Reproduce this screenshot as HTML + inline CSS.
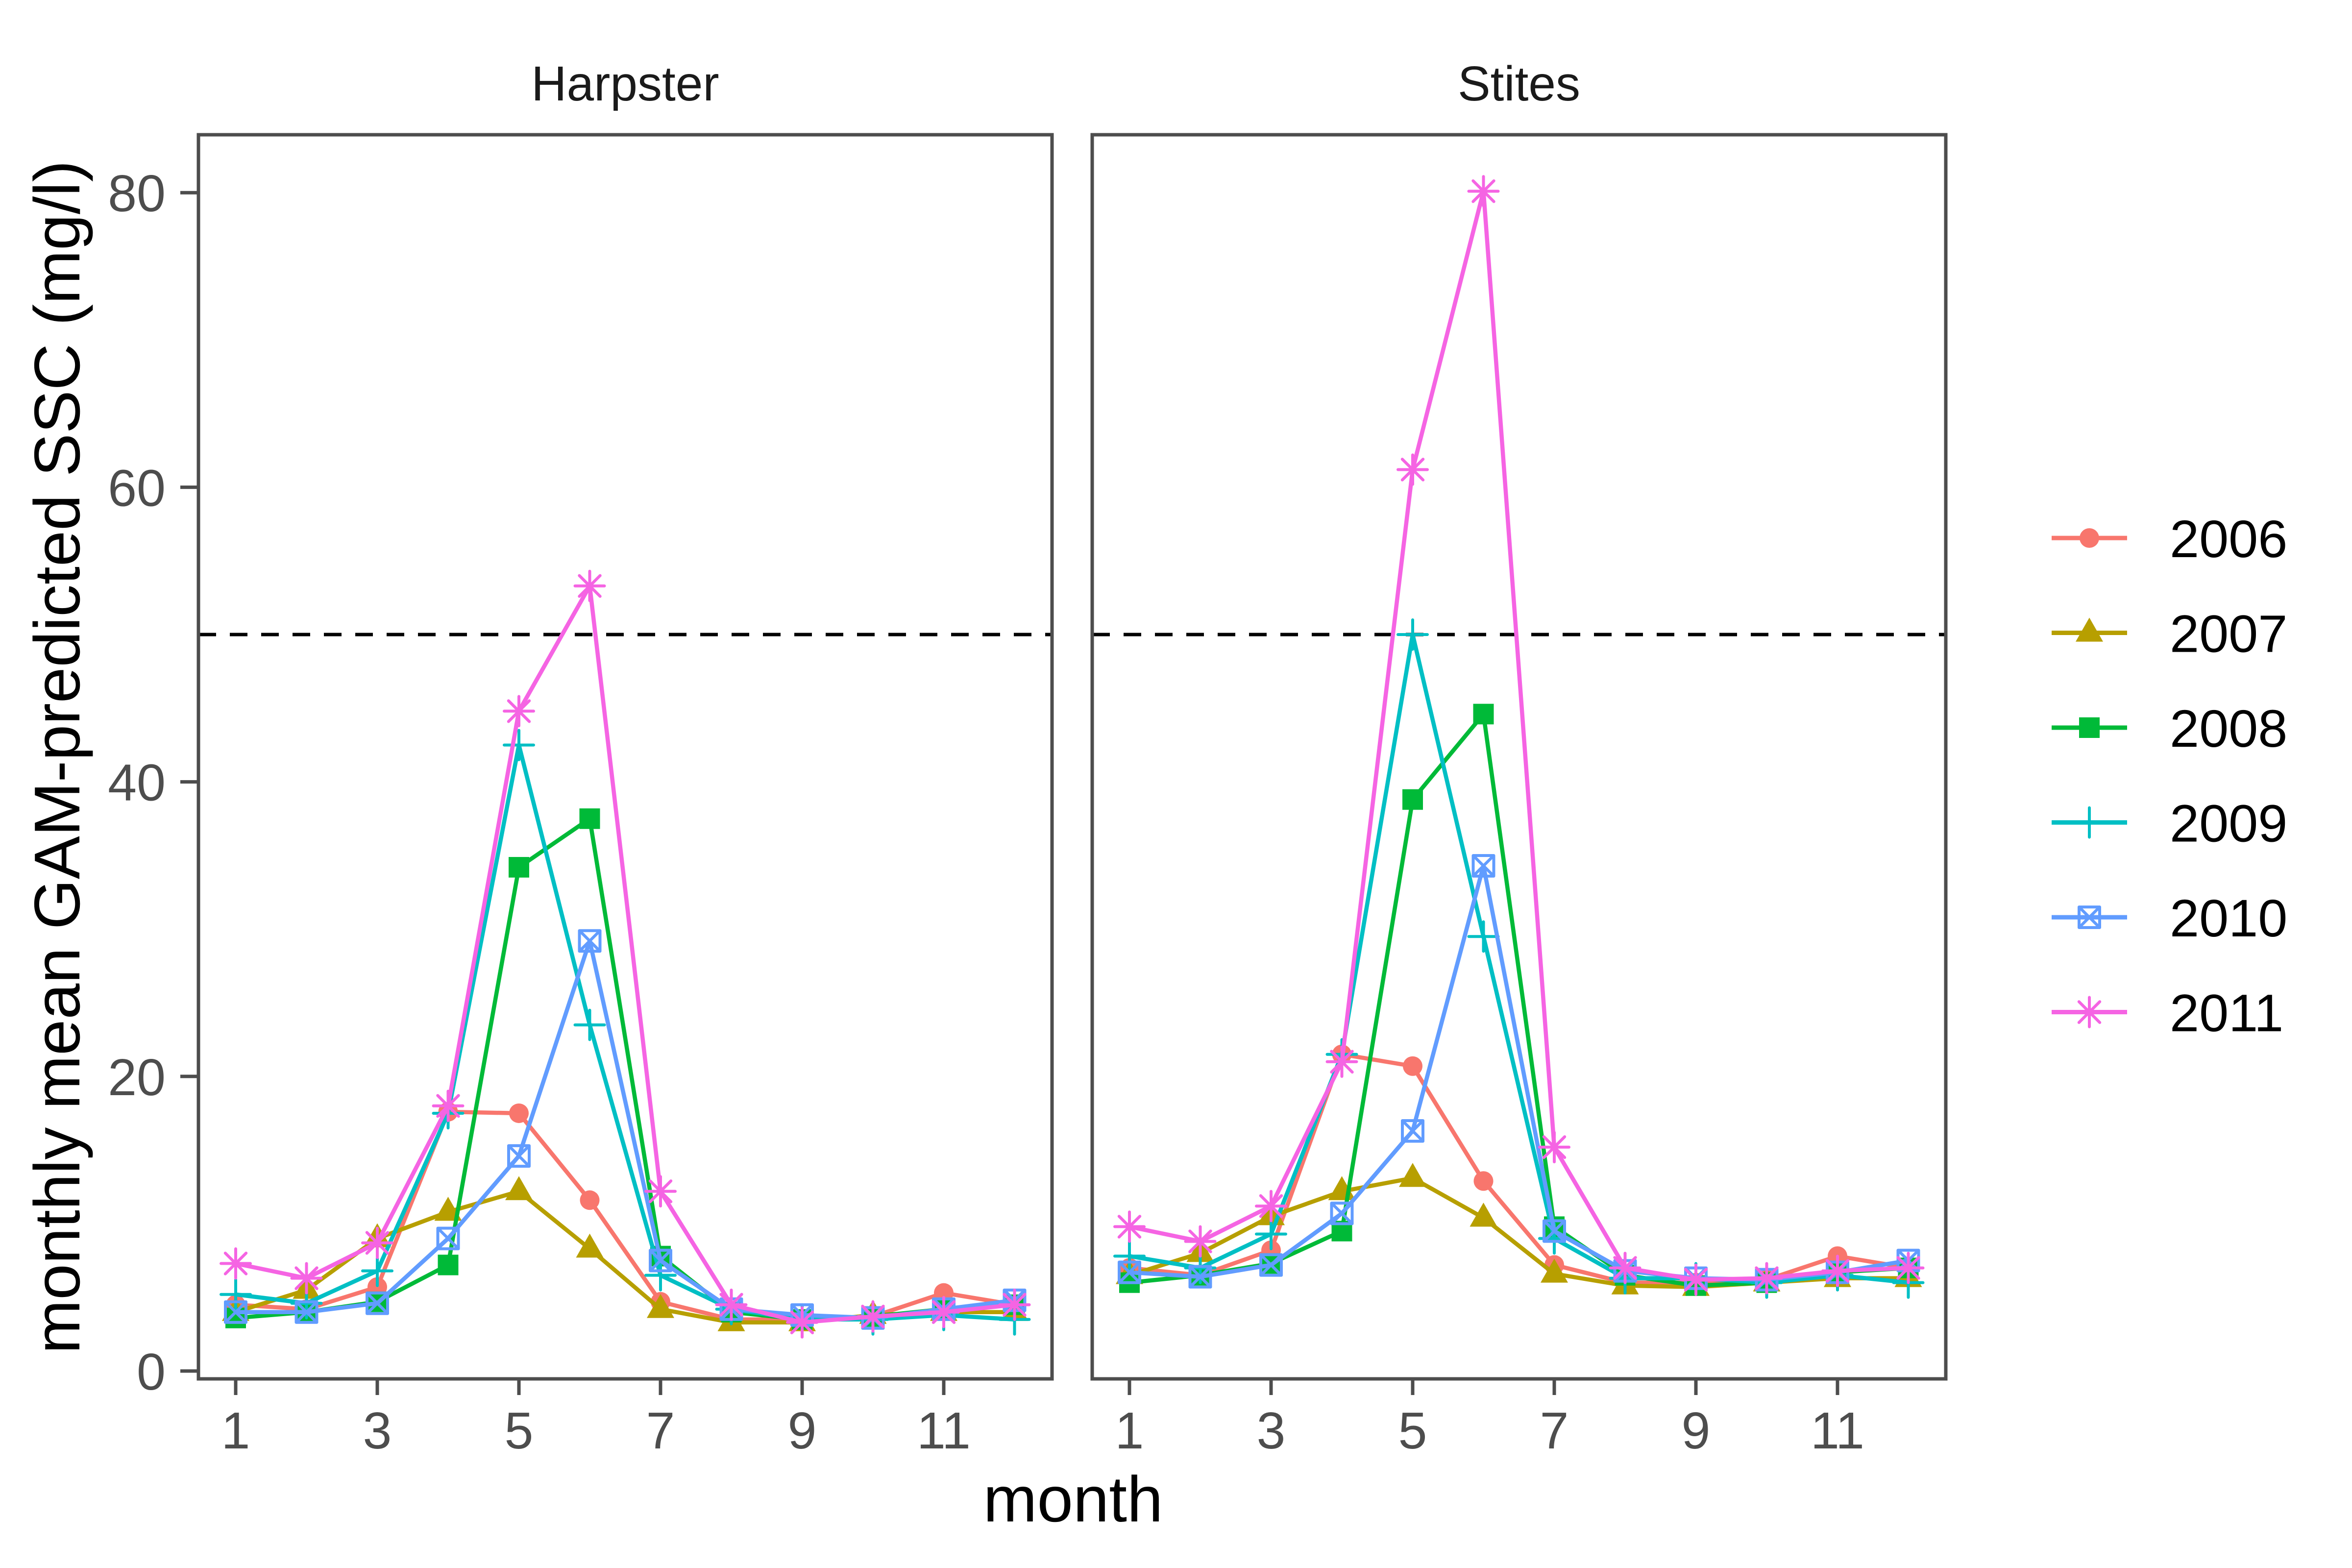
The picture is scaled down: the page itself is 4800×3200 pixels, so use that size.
<!DOCTYPE html>
<html><head><meta charset="utf-8"><style>html,body{margin:0;padding:0;background:#fff}svg{display:block}</style></head>
<body>
<svg id="chart" width="4800" height="3200" viewBox="0 0 4800 3200" xmlns="http://www.w3.org/2000/svg" font-family="Liberation Sans, Arial, sans-serif">
<rect width="4800" height="3200" fill="#fff"/>
</svg>
<script>
const months = [1,2,3,4,5,6,7,8,9,10,11,12];
const years = ["2006","2007","2008","2009","2010","2011"];
const colors = ["#F8766D","#B79F00","#00BA38","#00BFC4","#619CFF","#F564E3"];
const shapes = ["circle","triangle","square","plus","boxx","star"];
const sites = ["Harpster","Stites"];
const yTicks = [0,20,40,60,80];
const xTicks = [1,3,5,7,9,11];
const threshold = 50;
const harpster2006 = [4.5,4.2,5.7,17.6,17.5,11.6,4.7,3.5,3.5,3.7,5.3,4.5];
const harpster2007 = [4.0,5.5,9.0,10.8,12.2,8.3,4.2,3.3,3.3,3.8,4.0,4.0];
const harpster2008 = [3.6,4.0,4.7,7.2,34.2,37.5,7.8,4.0,3.5,3.7,4.2,4.5];
const harpster2009 = [5.2,4.6,6.8,17.5,42.5,23.5,6.5,4.2,3.5,3.5,3.8,3.5];
const harpster2010 = [4.0,4.0,4.6,9.0,14.6,29.2,7.5,4.2,3.8,3.6,4.2,4.8];
const harpster2011 = [7.3,6.3,8.7,18.0,44.8,53.3,12.2,4.5,3.3,3.7,4.0,4.5];
const stites2006 = [7.0,6.5,8.2,21.5,20.7,12.9,7.2,6.0,6.0,6.2,7.8,7.0];
const stites2007 = [6.5,8.0,10.5,12.2,13.1,10.4,6.6,5.8,5.7,6.0,6.3,6.3];
const stites2008 = [6.0,6.5,7.3,9.5,38.8,44.6,9.8,6.5,5.8,6.0,6.7,7.0];
const stites2009 = [7.8,7.0,9.3,21.5,50.0,29.5,9.0,6.3,6.3,6.0,6.5,6.0];
const stites2010 = [6.7,6.4,7.2,10.7,16.3,34.3,9.5,6.8,6.3,6.2,6.7,7.5];
const stites2011 = [9.8,8.8,11.2,21.0,61.2,80.1,15.2,7.0,6.2,6.3,6.8,7.0];
const siteData = [
  [harpster2006,harpster2007,harpster2008,harpster2009,harpster2010,harpster2011],
  [stites2006,stites2007,stites2008,stites2009,stites2010,stites2011]
];

const NS = "http://www.w3.org/2000/svg";
const svg = document.getElementById("chart");
function mk(tag, attrs, parent) {
  const e = document.createElementNS(NS, tag);
  for (const k in attrs) e.setAttribute(k, attrs[k]);
  (parent || svg).appendChild(e);
  return e;
}
const panelLeft = [405, 2229];
const panelW = 1742, panelTop = 275, panelBottom = 2814;
const x0off = 76, xStep = 144.5;
function xScale(p, m) { return panelLeft[p] + x0off + (m - 1) * xStep; }
function yScale(v) { return 2798 - v * 30.06; }

function drawShape(g, shape, cx, cy, col, s) {
  s = s || 1;
  let e;
  if (shape === "circle") { e = mk("circle", {cx:cx, cy:cy, r:20*s, fill:col}, g); }
  else if (shape === "triangle") { e = mk("polygon", {points:`${cx},${cy-31*s} ${cx-28*s},${cy+18*s} ${cx+28*s},${cy+18*s}`, fill:col}, g); }
  else if (shape === "square") { e = mk("rect", {x:cx-21*s, y:cy-21*s, width:42*s, height:42*s, fill:col}, g); }
  else if (shape === "plus") {
    e = mk("path", {d:`M${cx-30*s},${cy}H${cx+30*s}M${cx},${cy-30*s}V${cy+30*s}`, stroke:col, "stroke-width":6, fill:"none", "stroke-linecap":"round"}, g);
  } else if (shape === "boxx") {
    e = mk("path", {d:`M${cx-21*s},${cy-21*s}h${42*s}v${42*s}h${-42*s}zM${cx-21*s},${cy-21*s}L${cx+21*s},${cy+21*s}M${cx+21*s},${cy-21*s}L${cx-21*s},${cy+21*s}`, stroke:col, "stroke-width":6, fill:"none", "stroke-linejoin":"round"}, g);
  } else {
    const r = 30*s, d = r*0.707;
    e = mk("path", {d:`M${cx-r},${cy}H${cx+r}M${cx},${cy-r}V${cy+r}M${cx-d},${cy-d}L${cx+d},${cy+d}M${cx+d},${cy-d}L${cx-d},${cy+d}`, stroke:col, "stroke-width":6, fill:"none", "stroke-linecap":"round"}, g);
  }
  return e;
}

sites.forEach((site, p) => {
  const L = panelLeft[p];
  const pg = mk("g", {});
  
  
  const st = mk("text", {x:L + panelW/2, y:205, "font-size":100, "text-anchor":"middle", fill:"#1a1a1a"}, pg);
  st.textContent = site;
  
  
  const dash = mk("line", {x1:L, x2:L+panelW, y1:yScale(threshold), y2:yScale(threshold), stroke:"#000", "stroke-width":7, "stroke-dasharray":"36 28"}, pg);
  
  
  siteData[p].forEach((vals, si) => {
    const sg = mk("g", {}, pg);
    
    
    const pts = vals.map((v, i) => xScale(p, months[i]) + "," + yScale(v)).join(" ");
    mk("polyline", {points:pts, fill:"none", stroke:colors[si], "stroke-width":8.5, "stroke-linejoin":"round"}, sg);
    vals.forEach((v, i) => {
      const m = drawShape(sg, shapes[si], xScale(p, months[i]), yScale(v), colors[si]);
      
      
    });
  });
  const fr = mk("rect", {x:L, y:panelTop, width:panelW, height:panelBottom-panelTop, fill:"none", stroke:"#4d4d4d", "stroke-width":7}, pg);
  
  
  xTicks.forEach(t => {
    const x = xScale(p, t);
    mk("line", {x1:x, x2:x, y1:panelBottom, y2:panelBottom+33, stroke:"#4d4d4d", "stroke-width":7}, pg);
    const tl = mk("text", {x:x, y:2956, "font-size":106, "text-anchor":"middle", fill:"#4d4d4d"}, pg);
    tl.textContent = t;
    
    
  });
});
yTicks.forEach(t => {
  const y = yScale(t);
  mk("line", {x1:368, x2:405, y1:y, y2:y, stroke:"#4d4d4d", "stroke-width":7});
  const tl = mk("text", {x:338, y:y+38, "font-size":106, "text-anchor":"end", fill:"#4d4d4d"});
  tl.textContent = t;
  
  
});
const yt = mk("text", {x:0, y:0, "font-size":132, "text-anchor":"middle", fill:"#000", transform:"translate(162,1545) rotate(-90)"});
yt.textContent = "monthly mean GAM-predicted SSC (mg/l)";


const xt = mk("text", {x:2190, y:3105, "font-size":132, "text-anchor":"middle", fill:"#000"});
xt.textContent = "month";



years.forEach((yr, i) => {
  const cy = 1098 + i * 193.5;
  const lg = mk("g", {});
  
  
  mk("line", {x1:4187, x2:4341, y1:cy, y2:cy, stroke:colors[i], "stroke-width":9}, lg);
  drawShape(lg, shapes[i], 4264, cy, colors[i]);
  const t = mk("text", {x:4428, y:cy+39, "font-size":108, fill:"#000"}, lg);
  t.textContent = yr;
});
</script>
</body></html>
